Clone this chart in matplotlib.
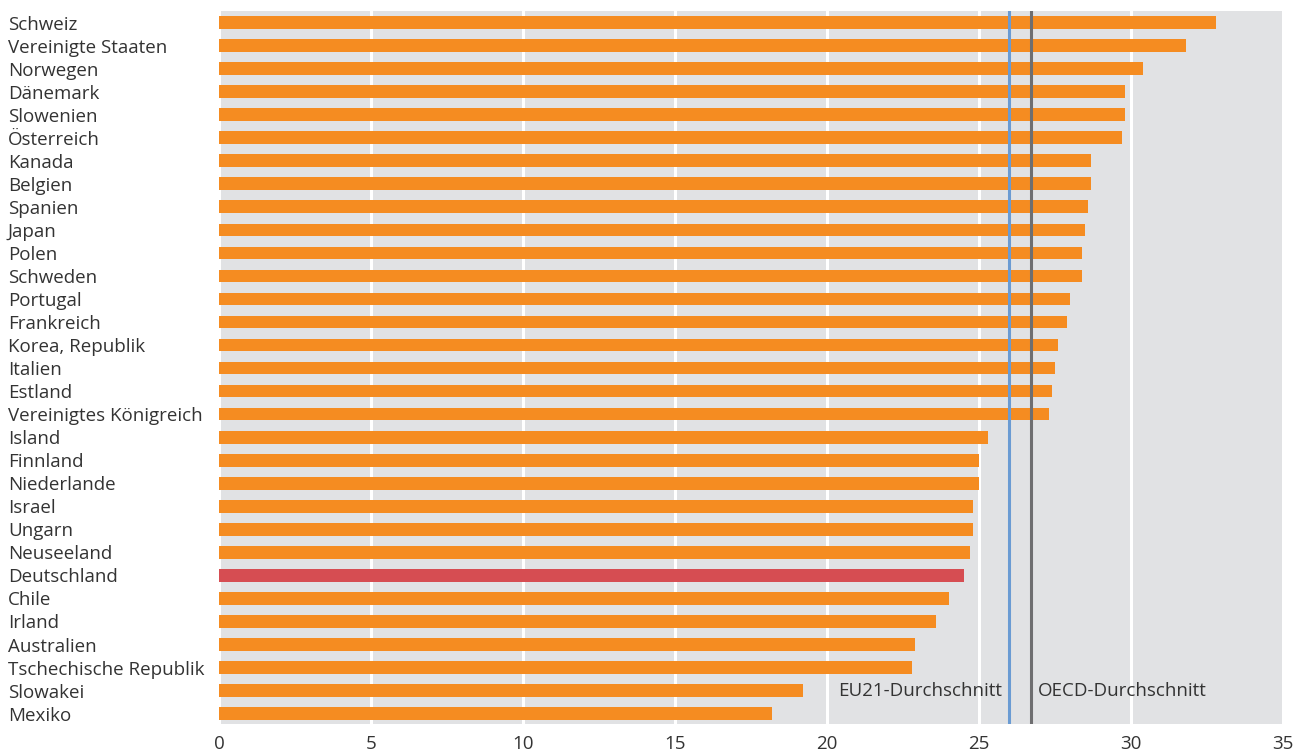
import matplotlib
matplotlib.use("Agg")
import matplotlib.pyplot as plt

plt.rcParams['font.family'] = ['Open Sans', 'DejaVu Sans']

countries = [
    "Schweiz", "Vereinigte Staaten", "Norwegen", "Dänemark", "Slowenien",
    "Österreich", "Kanada", "Belgien", "Spanien", "Japan", "Polen",
    "Schweden", "Portugal", "Frankreich", "Korea, Republik", "Italien",
    "Estland", "Vereinigtes Königreich", "Island", "Finnland",
    "Niederlande", "Israel", "Ungarn", "Neuseeland", "Deutschland",
    "Chile", "Irland", "Australien", "Tschechische Republik", "Slowakei",
    "Mexiko",
]
values = [
    32.8, 31.8, 30.4, 29.8, 29.8,
    29.7, 28.7, 28.7, 28.6, 28.5, 28.4,
    28.4, 28.0, 27.9, 27.6, 27.5,
    27.4, 27.3, 25.3, 25.0,
    25.0, 24.8, 24.8, 24.7, 24.5,
    24.0, 23.6, 22.9, 22.8, 19.2,
    18.2,
]
eu21_avg = 26.0
oecd_avg = 26.7
highlight = "Deutschland"
xticks = [0, 5, 10, 15, 20, 25, 30, 35]

ORANGE = "#F58C21"
RED = "#D64D52"
BG = "#E1E2E4"
BLUE = "#6A9BD3"
GREY = "#6E6E70"
TXT = "#333333"
FS = 13.5

fig = plt.figure(figsize=(13.08, 7.55), dpi=100)
ax = fig.add_axes([219 / 1308, 1 - 724 / 755, (1283 - 219) / 1308, (724 - 11) / 755])
ax.set_facecolor(BG)

ypos = list(range(len(countries)))
colors = [RED if c == highlight else ORANGE for c in countries]
ax.barh(ypos, values, height=0.55, color=colors, zorder=3)

ax.axvline(eu21_avg, color=BLUE, lw=2.2, zorder=4)
ax.axvline(oecd_avg, color=GREY, lw=2.2, zorder=4)

ax.set_xlim(0, 35)
ax.set_ylim(len(countries) - 0.55, -0.5)
ax.set_xticks(xticks)
ax.set_xticklabels([str(t) for t in xticks], fontsize=FS, color=TXT)
ax.grid(axis='x', color='white', lw=2.2, zorder=1)
ax.set_axisbelow(True)

ax.set_yticks(ypos)
ax.set_yticklabels(countries, fontsize=FS, color=TXT)
for lab in ax.get_yticklabels():
    lab.set_horizontalalignment('left')
ax.tick_params(axis='y', length=0, pad=211 * 72 / 100)
ax.tick_params(axis='x', length=0, pad=8)

for s in ax.spines.values():
    s.set_visible(False)

row = countries.index("Slowakei")
ax.text(eu21_avg - 0.25, row, "EU21-Durchschnitt", ha='right', va='center',
        fontsize=FS, color=TXT, zorder=5)
ax.text(oecd_avg + 0.25, row, "OECD-Durchschnitt", ha='left', va='center',
        fontsize=FS, color=TXT, zorder=5)

fig.savefig("out.png", dpi=100)
